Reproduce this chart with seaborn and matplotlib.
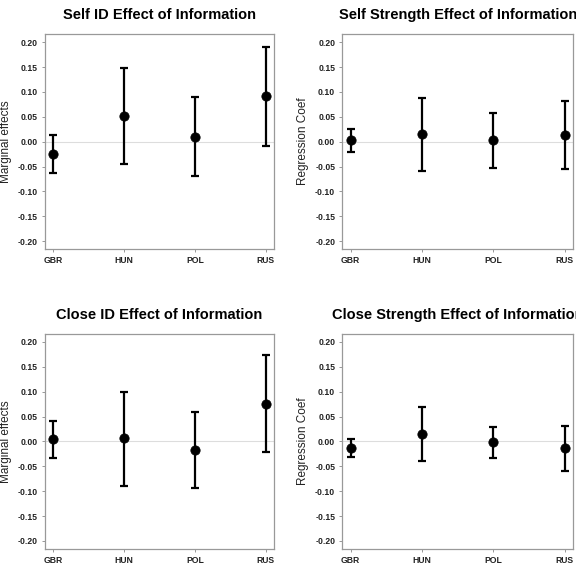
import matplotlib
matplotlib.use("Agg")
import matplotlib.pyplot as plt
import seaborn as sns
import pandas as pd

# Country codes on the x axis
countries = ["GBR", "HUN", "POL", "RUS"]

# Self ID: marginal effects with lower / upper bounds
self_id_est = [-0.025, 0.051, 0.009, 0.092]
self_id_lo = [-0.064, -0.045, -0.070, -0.009]
self_id_hi = [0.013, 0.148, 0.089, 0.191]

# Self Strength: regression coefficients
self_str_est = [0.003, 0.015, 0.004, 0.013]
self_str_lo = [-0.021, -0.060, -0.052, -0.055]
self_str_hi = [0.026, 0.088, 0.058, 0.082]

# Close ID: marginal effects
close_id_est = [0.004, 0.006, -0.017, 0.076]
close_id_lo = [-0.033, -0.089, -0.093, -0.022]
close_id_hi = [0.041, 0.100, 0.059, 0.173]

# Close Strength: regression coefficients
close_str_est = [-0.013, 0.015, -0.001, -0.013]
close_str_lo = [-0.031, -0.039, -0.034, -0.060]
close_str_hi = [0.005, 0.069, 0.030, 0.031]

yticks = [-0.20, -0.15, -0.10, -0.05, 0.00, 0.05, 0.10, 0.15, 0.20]

sns.set_theme(style="white")
plt.rcParams['font.family'] = ['Liberation Sans', 'DejaVu Sans']
plt.rcParams['text.color'] = 'black'
plt.rcParams['axes.labelcolor'] = '#222222'
plt.rcParams['xtick.labelcolor'] = '#222222'
plt.rcParams['ytick.labelcolor'] = '#222222'

fig = plt.figure(figsize=(5.76, 5.70), dpi=100)

panels = [
    ("Self ID Effect of Information", "Marginal effects",
     self_id_est, self_id_lo, self_id_hi, [0.078, 0.563, 0.398, 0.377], -0.145),
    ("Self Strength Effect of Information", "Regression Coef",
     self_str_est, self_str_lo, self_str_hi, [0.594, 0.563, 0.401, 0.377], -0.143),
    ("Close ID Effect of Information", "Marginal effects",
     close_id_est, close_id_lo, close_id_hi, [0.078, 0.037, 0.398, 0.377], -0.145),
    ("Close Strength Effect of Information", "Regression Coef",
     close_str_est, close_str_lo, close_str_hi, [0.594, 0.037, 0.401, 0.377], -0.143),
]

for title, ylab, est, lo, hi, pos, labx in panels:
    ax = fig.add_axes(pos)
    df = pd.DataFrame({"country": countries, "est": est, "lo": lo, "hi": hi})
    ax.axhline(0, color="#dddddd", lw=0.8, zorder=0)
    ax.errorbar(df["country"], df["est"],
                yerr=[df["est"] - df["lo"], df["hi"] - df["est"]],
                fmt="none", ecolor="black", elinewidth=1.6, capsize=2.8,
                capthick=1.6, zorder=2)
    sns.scatterplot(data=df, x="country", y="est", ax=ax, color="black",
                    s=45, edgecolor="black", zorder=3, legend=False)
    ax.set_xlim(-0.12, 3.12)
    ax.set_ylim(-0.216, 0.216)
    ax.set_yticks(yticks)
    ax.set_yticklabels([f"{v:.2f}" for v in yticks], fontsize=6.2, fontweight="bold")
    ax.set_xticks(range(len(countries)))
    ax.set_xticklabels(countries, fontsize=6.2, fontweight="bold")
    ax.tick_params(axis="both", length=2.5, width=0.6, color="#888888", pad=2.5,
                   left=True, bottom=True)
    for sp in ax.spines.values():
        sp.set_color("#999999")
        sp.set_linewidth(0.9)
    ax.set_xlabel("")
    ax.set_ylabel(ylab, fontsize=8.5)
    ax.yaxis.set_label_coords(labx, 0.5)
    ax.set_title(title, fontsize=10.5, fontweight="bold", pad=11, color="black")

fig.savefig("out.png", dpi=100)
